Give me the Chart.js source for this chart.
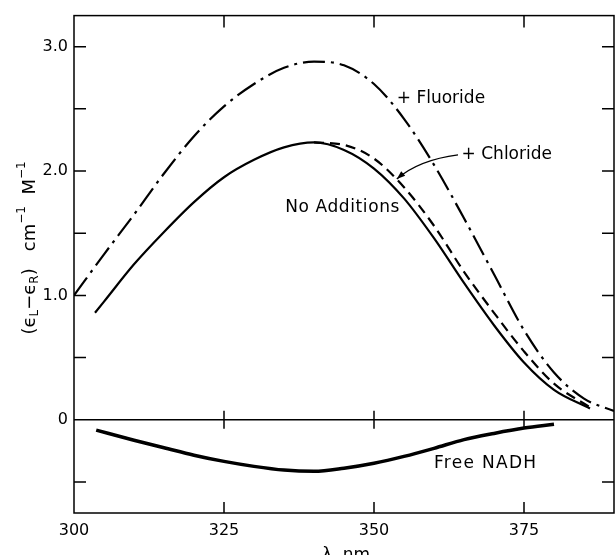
<!DOCTYPE html>
<html>
<head>
<meta charset="utf-8">
<script src="https://cdn.jsdelivr.net/npm/chart.js@4.4.1/dist/chart.umd.min.js"></script>
<style>
    html, body { margin: 0; padding: 0; background: #fff; }
    #contenedor { width: 615px; height: 555px; position: relative; }
</style>
</head>
<body>
<div id="contenedor"><canvas id="graficoCD"></canvas></div>
<script>
// ===== DATOS =====
const lambdaFluoruro = [300, 305, 310, 315, 320, 325, 330, 335, 340, 345, 350, 355, 360, 365, 370, 375, 380, 385, 390];
const cdFluoruro = [1.00, 1.33, 1.65, 1.98, 2.28, 2.52, 2.70, 2.83, 2.88, 2.85, 2.70, 2.42, 2.05, 1.62, 1.17, 0.72, 0.38, 0.17, 0.07];

const lambdaSinAdicion = [303.5, 305, 310, 315, 320, 325, 330, 335, 340, 345, 350, 355, 360, 365, 370, 375, 380, 386];
const cdSinAdicion = [0.86, 0.95, 1.25, 1.51, 1.75, 1.95, 2.09, 2.19, 2.23, 2.17, 2.02, 1.78, 1.46, 1.10, 0.76, 0.46, 0.24, 0.09];

const lambdaCloruro = [340, 345, 350, 355, 360, 365, 370, 375, 380, 386];
const cdCloruro = [2.23, 2.21, 2.10, 1.87, 1.56, 1.19, 0.86, 0.55, 0.29, 0.10];

const lambdaNADH = [303.7, 310, 315, 320, 325, 330, 335, 340, 345, 350, 355, 360, 365, 370, 375, 380];
const cdNADH = [-0.084, -0.165, -0.225, -0.285, -0.335, -0.375, -0.405, -0.415, -0.39, -0.35, -0.295, -0.23, -0.16, -0.11, -0.067, -0.037];

// marcas de los ejes
const ticksX = [300, 325, 350, 375];
const ticksY = [0, 1, 2, 3];
const marcasX = [325, 350, 375];
const marcasY = [3.0, 2.5, 2.0, 1.5, 1.0, 0.5, -0.5];

// ===== ETIQUETAS (coordenadas de datos) =====
const etiquetas = [
    { texto: '+ Fluoride', x: 353.8, y: 2.585, esp: 0 },
    { texto: '+ Chloride', x: 364.6, y: 2.136, esp: 0 },
    { texto: 'No Additions', x: 335.2, y: 1.71, esp: 0.6 },
    { texto: 'Free NADH', x: 360.0, y: -0.354, esp: 1.3 }
];
const flecha = { x0: 364.0, y0: 2.13, cx: 357.5, cy: 2.09, x1: 353.8, y1: 1.936 };

const FUENTE = '"DejaVu Sans", sans-serif';
Chart.defaults.font.family = FUENTE;
Chart.defaults.font.size = 16;
Chart.defaults.color = '#000';

function puntos(xs, ys) {
    return xs.map((x, i) => ({ x: x, y: ys[i] }));
}

// ===== PLUGIN: marco, marcas, textos =====
const decorado = {
    id: 'decorado',
    afterDatasetsDraw(chart) {
        const { ctx, chartArea: a, scales: { x, y } } = chart;
        ctx.save();
        ctx.strokeStyle = '#000';
        ctx.fillStyle = '#000';
        ctx.lineWidth = 1.5;

        // marco
        ctx.strokeRect(a.left, a.top, a.right - a.left, a.bottom - a.top);

        // linea de cero
        const y0 = y.getPixelForValue(0);
        ctx.beginPath();
        ctx.moveTo(a.left, y0);
        ctx.lineTo(a.right, y0);
        ctx.stroke();

        // marcas hacia dentro
        ctx.beginPath();
        marcasY.forEach(v => {
            const py = y.getPixelForValue(v);
            ctx.moveTo(a.left, py); ctx.lineTo(a.left + 12, py);
            ctx.moveTo(a.right, py); ctx.lineTo(a.right - 12, py);
        });
        marcasX.forEach(v => {
            const px = x.getPixelForValue(v);
            ctx.moveTo(px, a.top); ctx.lineTo(px, a.top + 12);
            ctx.moveTo(px, a.bottom); ctx.lineTo(px, a.bottom - 11);
            ctx.moveTo(px, y0 - 9); ctx.lineTo(px, y0 + 9);
        });
        ctx.stroke();

        // textos
        ctx.font = '17px ' + FUENTE;
        ctx.textBaseline = 'middle';
        ctx.textAlign = 'left';
        etiquetas.forEach(e => {
            ctx.letterSpacing = e.esp + 'px';
            ctx.fillText(e.texto, x.getPixelForValue(e.x), y.getPixelForValue(e.y));
        });
        ctx.letterSpacing = '0px';

        // flecha de "+ Chloride"
        const p0 = [x.getPixelForValue(flecha.x0), y.getPixelForValue(flecha.y0)];
        const pc = [x.getPixelForValue(flecha.cx), y.getPixelForValue(flecha.cy)];
        const p1 = [x.getPixelForValue(flecha.x1), y.getPixelForValue(flecha.y1)];
        ctx.lineWidth = 1.3;
        ctx.beginPath();
        ctx.moveTo(p0[0], p0[1]);
        ctx.quadraticCurveTo(pc[0], pc[1], p1[0], p1[1]);
        ctx.stroke();
        const ang = Math.atan2(p1[1] - pc[1], p1[0] - pc[0]);
        ctx.beginPath();
        ctx.moveTo(p1[0], p1[1]);
        ctx.lineTo(p1[0] - 9 * Math.cos(ang - 0.35), p1[1] - 9 * Math.sin(ang - 0.35));
        ctx.lineTo(p1[0] - 9 * Math.cos(ang + 0.35), p1[1] - 9 * Math.sin(ang + 0.35));
        ctx.closePath();
        ctx.fill();

        // titulo eje x
        ctx.font = '17px ' + FUENTE;
        ctx.textAlign = 'center';
        ctx.textBaseline = 'alphabetic';
        ctx.fillText('λ  nm', (a.left + a.right) / 2 + 2, 560);

        // titulo eje y con subindices
        dibujarTituloY(ctx, 35, 248);
        ctx.restore();
    }
};

function dibujarTituloY(ctx, cx, cy) {
    const partes = [
        { t: '(ϵ', s: 18, dy: 0 },
        { t: 'L', s: 12, dy: 3 },
        { t: '−ϵ', s: 18, dy: 0 },
        { t: 'R', s: 12, dy: 3 },
        { t: ')   cm', s: 18, dy: 0 },
        { t: '−1', s: 12, dy: -10 },
        { t: '  M', s: 18, dy: 0 },
        { t: '−1', s: 12, dy: -10 }
    ];
    let total = 0;
    partes.forEach(p => {
        ctx.font = p.s + 'px ' + FUENTE;
        p.w = ctx.measureText(p.t).width;
        total += p.w;
    });
    ctx.save();
    ctx.translate(cx, cy);
    ctx.rotate(-Math.PI / 2);
    ctx.textAlign = 'left';
    ctx.textBaseline = 'alphabetic';
    let px = -total / 2;
    partes.forEach(p => {
        ctx.font = p.s + 'px ' + FUENTE;
        ctx.fillText(p.t, px, p.dy);
        px += p.w;
    });
    ctx.restore();
}

// ===== GRAFICO =====
function inicializarGrafico() {
    const ctx = document.getElementById('graficoCD').getContext('2d');
    window.graficoCD = new Chart(ctx, {
        type: 'line',
        data: {
            datasets: [
                {
                    label: '+ Fluoride',
                    data: puntos(lambdaFluoruro, cdFluoruro),
                    borderColor: '#000',
                    borderWidth: 2.2,
                    borderDash: [22, 6, 3, 6],
                    pointRadius: 0,
                    cubicInterpolationMode: 'monotone'
                },
                {
                    label: 'No Additions',
                    data: puntos(lambdaSinAdicion, cdSinAdicion),
                    borderColor: '#000',
                    borderWidth: 2.2,
                    pointRadius: 0,
                    cubicInterpolationMode: 'monotone'
                },
                {
                    label: '+ Chloride',
                    data: puntos(lambdaCloruro, cdCloruro),
                    borderColor: '#000',
                    borderWidth: 2.2,
                    borderDash: [10, 6],
                    pointRadius: 0,
                    cubicInterpolationMode: 'monotone'
                },
                {
                    label: 'Free NADH',
                    data: puntos(lambdaNADH, cdNADH),
                    borderColor: '#000',
                    borderWidth: 3.5,
                    pointRadius: 0,
                    cubicInterpolationMode: 'monotone'
                }
            ]
        },
        options: {
            responsive: true,
            maintainAspectRatio: false,
            animation: false,
            layout: { padding: { top: 14, right: 1, left: 0, bottom: 0 } },
            plugins: {
                legend: { display: false },
                tooltip: { enabled: false }
            },
            scales: {
                x: {
                    type: 'linear',
                    min: 300,
                    max: 390,
                    grid: { display: false, drawTicks: false },
                    border: { display: false },
                    afterBuildTicks: s => { s.ticks = ticksX.map(v => ({ value: v })); },
                    afterFit: s => { s.height = 42; },
                    ticks: {
                        padding: 8,
                        maxRotation: 0,
                        autoSkip: false,
                        callback: v => String(v)
                    }
                },
                y: {
                    type: 'linear',
                    min: -0.75,
                    max: 3.25,
                    grid: { display: false, drawTicks: false },
                    border: { display: false },
                    afterBuildTicks: s => { s.ticks = ticksY.map(v => ({ value: v })); },
                    afterFit: s => { s.width = 74; },
                    ticks: {
                        padding: 6,
                        callback: v => v === 0 ? '0' : v.toFixed(1)
                    }
                }
            }
        },
        plugins: [decorado]
    });
}

inicializarGrafico();
</script>
</body>
</html>
